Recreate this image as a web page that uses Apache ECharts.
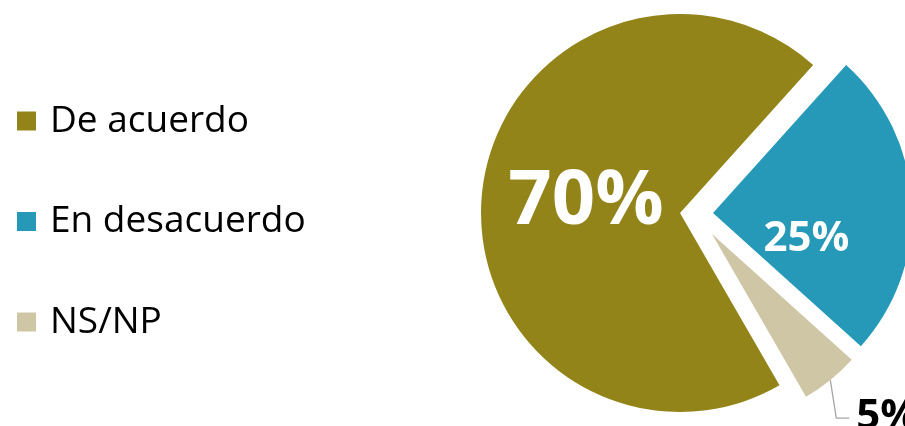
<!DOCTYPE html>
<html>
<head>
<meta charset="utf-8">
<script src="https://cdn.jsdelivr.net/npm/echarts@6/dist/echarts.min.js"></script>
<style>
html,body{margin:0;padding:0;background:#fff;}
#main{width:905px;height:426px;}
</style>
</head>
<body>
<div id="main"></div>
<script>
const categories = ['De acuerdo', 'En desacuerdo', 'NS/NP'];
const values = [70, 25, 5];
const colors = ['#93841a', '#2699b9', '#cfc6a6'];

// per-slice drawing setup (exploded pie: each slice drawn around its own offset centre)
const sliceCenters = [[680, 213], [713, 213], [712, 234]];
const sliceRadii = [199, 199, 188];
const sliceLabels = [
  { show: true, position: 'inside', formatter: '{c}%', color: '#fff', fontFamily: 'Open Sans', fontWeight: 'bold', fontSize: 76, offset: [8, 0] },
  { show: true, position: 'inside', formatter: '{c}%', color: '#fff', fontFamily: 'Open Sans', fontWeight: 'bold', fontSize: 42, offset: [-9, 31] },
  { show: true, position: 'outside', formatter: '{c}%', color: '#000', fontFamily: 'Open Sans', fontWeight: 'bold', fontSize: 42 }
];

// leader line for the small outside label: short near-vertical drop, then a short horizontal run
function outsideLabelLayout(params) {
  if (!params.labelLinePoints) return {};
  const p0 = params.labelLinePoints[0];
  const bend = [p0[0] + 6, p0[1] + 38];
  const end = [bend[0] + 13, bend[1]];
  return {
    x: end[0] + 7,
    y: end[1] - 1,
    align: 'left',
    verticalAlign: 'middle',
    labelLinePoints: [p0, bend, end]
  };
}

const series = categories.map(function (cat, k) {
  return {
    type: 'pie',
    center: sliceCenters[k],
    radius: [0, sliceRadii[k]],
    startAngle: 300,
    clockwise: true,
    avoidLabelOverlap: false,
    animation: false,
    emphasis: { disabled: true },
    labelLayout: k === 2 ? outsideLabelLayout : undefined,
    labelLine: { show: true, length: 30, length2: 12, lineStyle: { color: '#a6a6a6', width: 1.3 } },
    data: values.map(function (v, i) {
      if (i === k) {
        return {
          name: categories[i],
          value: v,
          itemStyle: { color: colors[i] },
          label: sliceLabels[i],
          labelLine: { show: i === 2 }
        };
      }
      return {
        name: '',
        value: v,
        itemStyle: { color: 'rgba(0,0,0,0)' },
        label: { show: false },
        labelLine: { show: false }
      };
    })
  };
});

const chart = echarts.init(document.getElementById('main'));
chart.setOption({
  backgroundColor: '#fff',
  color: colors,
  legend: {
    data: categories,
    orient: 'vertical',
    left: 12,
    top: 94,
    icon: 'rect',
    itemWidth: 19,
    itemHeight: 19,
    itemGap: 56.5,
    selectedMode: false,
    textStyle: { fontFamily: 'Open Sans', fontSize: 37, color: '#000', lineHeight: 44, padding: [0, 0, 0, 9] }
  },
  series: series
});
</script>
</body>
</html>
